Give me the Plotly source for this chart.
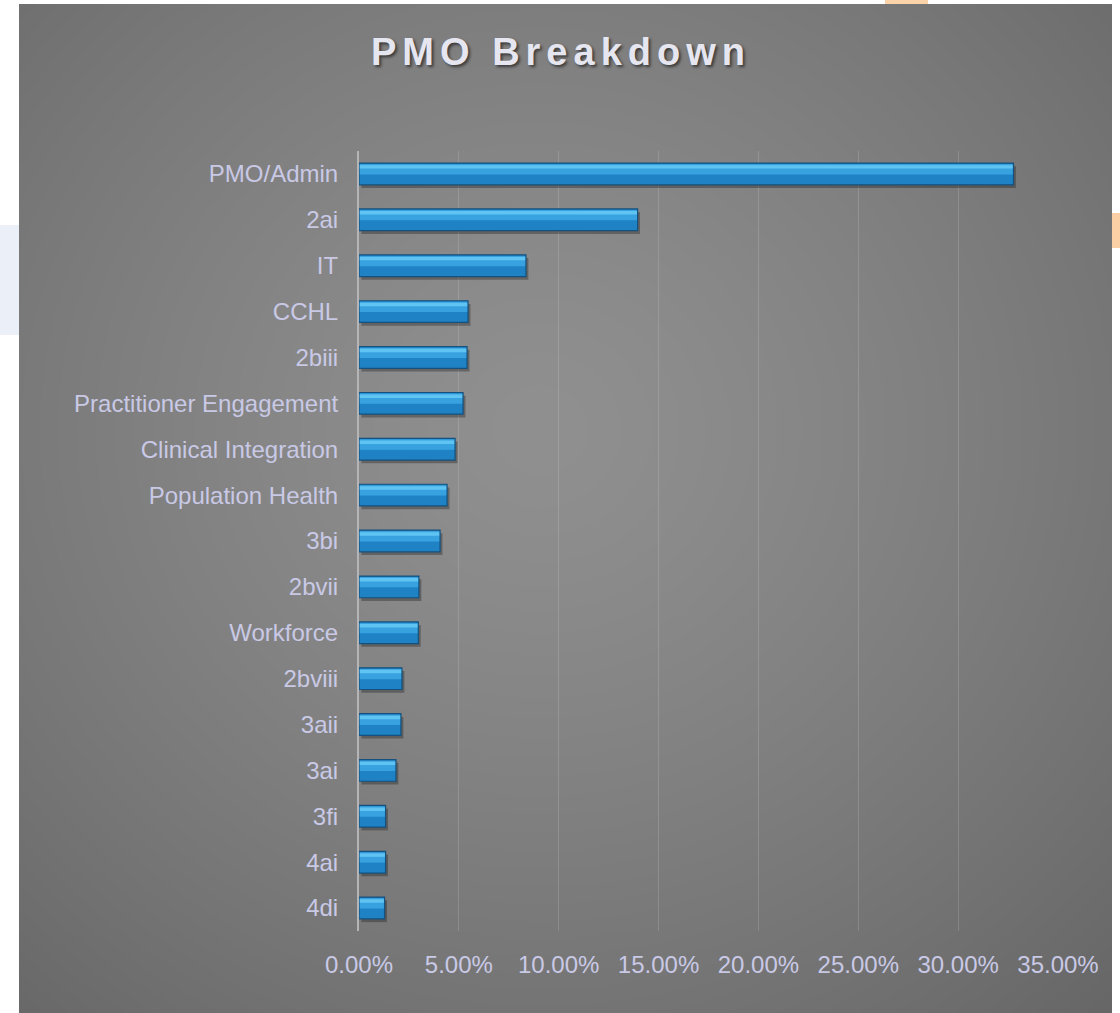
import base64
import struct
import zlib

import numpy as np
import plotly.graph_objects as go

# ---------------- data ----------------
categories = [
    "PMO/Admin", "2ai", "IT", "CCHL", "2biii", "Practitioner Engagement",
    "Clinical Integration", "Population Health", "3bi", "2bvii", "Workforce",
    "2bviii", "3aii", "3ai", "3fi", "4ai", "4di",
]
shares = [
    0.3277, 0.1395, 0.0836, 0.0546, 0.0541, 0.0521,
    0.0481, 0.0441, 0.0406, 0.0300, 0.0297,
    0.0215, 0.0210, 0.0185, 0.0133, 0.0133, 0.0128,
]
x_tick_values = [0.0, 0.05, 0.10, 0.15, 0.20, 0.25, 0.30, 0.35]
x_tick_labels = ["0.00%", "5.00%", "10.00%", "15.00%", "20.00%", "25.00%", "30.00%", "35.00%"]
chart_title = "PMO Breakdown"

# ---------------- geometry ----------------
W, H = 1120, 1013
L, R, T, B = 359, 62, 151, 82
PW, PH = W - L - R, H - T - B


def px_x(p):
    return (p - L) / PW


def px_y(p):
    return (H - B - p) / PH


# ---------------- radial gradient background (png data uri) ----------------
def png_data_uri(arr):
    h, w = arr.shape
    raw = b"".join(b"\x00" + arr[i].astype(np.uint8).tobytes() for i in range(h))

    def chunk(tag, data):
        c = struct.pack(">I", len(data)) + tag + data
        return c + struct.pack(">I", zlib.crc32(tag + data) & 0xFFFFFFFF)

    png = (b"\x89PNG\r\n\x1a\n"
           + chunk(b"IHDR", struct.pack(">IIBBBBB", w, h, 8, 0, 0, 0, 0))
           + chunk(b"IDAT", zlib.compress(raw, 9))
           + chunk(b"IEND", b""))
    return "data:image/png;base64," + base64.b64encode(png).decode()


bx0, by0, bx1, by1 = 19, 4, 1112, 1013
gw, gh = (bx1 - bx0) // 2, (by1 - by0) // 2
gx = np.linspace(bx0, bx1, gw)
gy = np.linspace(by0, by1, gh)
GX, GY = np.meshgrid(gx, gy)
d = np.sqrt(((GX - 540) / 760.0) ** 2 + ((GY - 430) / 720.0) ** 2)
vals = 144 - 36 * np.clip(d, 0, 1.2) ** 1.3
bg_uri = png_data_uri(np.clip(vals, 0, 255))

# ---------------- figure ----------------
bar_w = 0.473
top_off = -bar_w / 2

fig = go.Figure()

# drop shadow
fig.add_trace(go.Bar(
    y=categories, x=shares, orientation="h", base=0.0012,
    width=bar_w, offset=top_off + 0.07,
    marker=dict(color="rgba(25,25,25,0.35)", line=dict(width=0)),
    hoverinfo="skip", showlegend=False,
))
# main body
fig.add_trace(go.Bar(
    y=categories, x=shares, orientation="h",
    width=bar_w, offset=top_off,
    marker=dict(color="#1f82c4", line=dict(width=0)),
    showlegend=False,
    hovertemplate="%{y}: %{x:.2%}<extra></extra>",
))
# upper lighter half
fig.add_trace(go.Bar(
    y=categories, x=shares, orientation="h",
    width=bar_w * 0.48, offset=top_off + 0.02,
    marker=dict(color="#38a2e1", line=dict(width=0)),
    hoverinfo="skip", showlegend=False,
))
# top highlight stripe
fig.add_trace(go.Bar(
    y=categories, x=shares, orientation="h",
    width=0.075, offset=top_off + 0.045,
    marker=dict(color="#60c4f3", line=dict(width=0)),
    hoverinfo="skip", showlegend=False,
))
# outline
fig.add_trace(go.Bar(
    y=categories, x=shares, orientation="h",
    width=bar_w, offset=top_off,
    marker=dict(color="rgba(0,0,0,0)", line=dict(width=1.2, color="#14517e")),
    hoverinfo="skip", showlegend=False,
))

label_font = dict(family="Liberation Sans, Arial, sans-serif", size=24, color="#c9c9e6")

fig.update_layout(
    width=W, height=H,
    margin=dict(l=L, r=R, t=T, b=B, pad=0),
    autosize=False,
    paper_bgcolor="white",
    plot_bgcolor="rgba(0,0,0,0)",
    barmode="overlay",
    showlegend=False,
    title=dict(
        text="<span style='letter-spacing:6px'>" + chart_title + "</span>",
        x=561 / W, xref="container", xanchor="center",
        y=1 - 52 / H, yref="container", yanchor="middle",
        font=dict(family="Liberation Sans, Arial, sans-serif", size=38,
                  weight="bold", color="#e6e6f0",
                  shadow="2px 2px 3px rgba(0,0,0,0.55)"),
    ),
    xaxis=dict(
        range=[0, 0.35],
        tickmode="array", tickvals=x_tick_values, ticktext=x_tick_labels,
        showgrid=True, gridcolor="rgba(255,255,255,0.14)", gridwidth=1,
        zeroline=False, showline=False, ticks="",
        tickfont=label_font, ticklabelstandoff=17,
        fixedrange=True,
    ),
    yaxis=dict(
        type="category", autorange="reversed",
        showgrid=False, zeroline=False,
        showline=True, linecolor="#b5b5b8", linewidth=2,
        ticks="", tickfont=label_font, ticklabelstandoff=14,
        fixedrange=True,
    ),
    images=[dict(
        source=bg_uri, xref="paper", yref="paper",
        x=px_x(bx0), y=px_y(by0),
        sizex=(bx1 - bx0) / PW, sizey=(by1 - by0) / PH,
        xanchor="left", yanchor="top", sizing="stretch", layer="below",
    )],
    shapes=[
        dict(type="rect", xref="paper", yref="paper", layer="below",
             x0=px_x(885), x1=px_x(928), y0=px_y(0), y1=px_y(4),
             fillcolor="#fbd3a8", line=dict(width=0)),
        dict(type="rect", xref="paper", yref="paper", layer="below",
             x0=px_x(1112), x1=px_x(1120), y0=px_y(213), y1=px_y(248),
             fillcolor="#fbd0a4", line=dict(width=0)),
        dict(type="rect", xref="paper", yref="paper", layer="below",
             x0=px_x(0), x1=px_x(19), y0=px_y(225), y1=px_y(335),
             fillcolor="#eaeff8", line=dict(width=0)),
    ],
)

fig.write_html(
    "out.html",
    config={"displayModeBar": False},
    post_script="document.body.style.margin='0';",
)
